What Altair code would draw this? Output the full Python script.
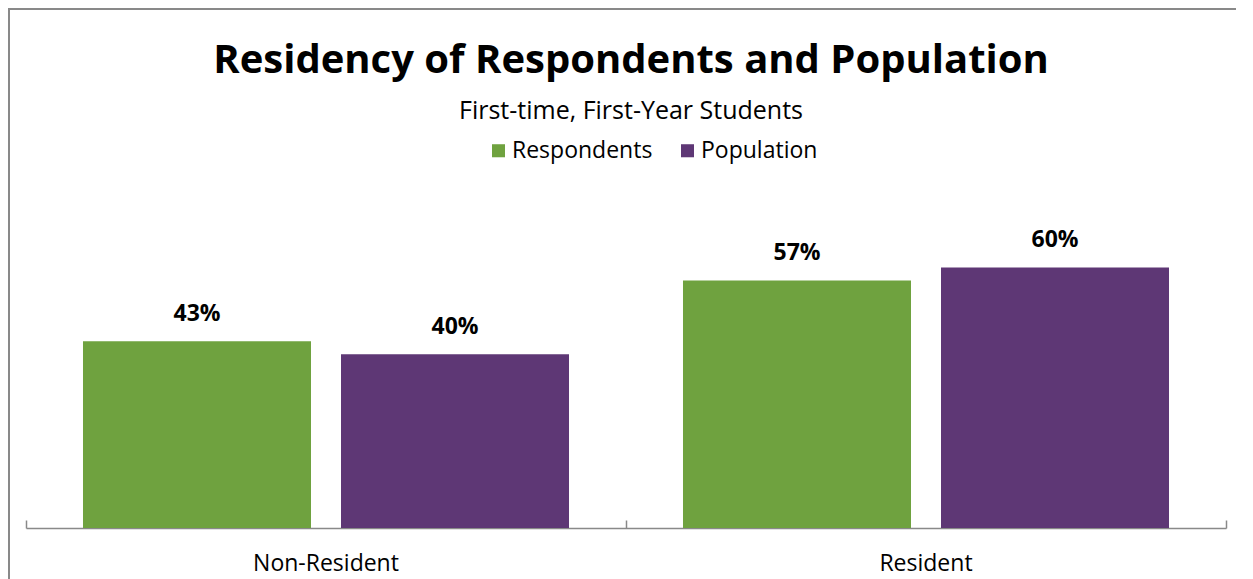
import altair as alt
import pandas as pd

categories = ["Non-Resident", "Resident"]
series = ["Respondents", "Population"]
respondents = [0.43, 0.57]
population = [0.40, 0.60]
colors = ["#6FA23F", "#5E3775"]

rows = []
for i, c in enumerate(categories):
    rows.append({"category": c, "series": series[0], "value": respondents[i]})
    rows.append({"category": c, "series": series[1], "value": population[i]})
df = pd.DataFrame(rows)

FONT = "Open Sans"
W, H = 1200, 304

x_scale = alt.Scale(paddingInner=0, paddingOuter=0)
x_enc = alt.X(
    "category:N",
    sort=categories,
    title=None,
    scale=x_scale,
    axis=alt.Axis(
        domainColor="#898989", domainWidth=1.5, ticks=False,
        labelAngle=0, labelFontSize=23, labelFont=FONT, labelColor="black",
        labelPadding=24,
    ),
)
xoff = alt.XOffset("series:N", sort=series,
                   scale=alt.Scale(paddingInner=0.1163, paddingOuter=0.2209))
y_enc = alt.Y("value:Q", scale=alt.Scale(domain=[0, 0.7]), axis=None)

bars = alt.Chart(df).mark_bar().encode(
    x=x_enc,
    xOffset=xoff,
    y=y_enc,
    color=alt.Color(
        "series:N", sort=series,
        scale=alt.Scale(domain=series, range=colors),
        legend=alt.Legend(
            title=None, orient="none", direction="horizontal",
            legendX=461, legendY=-85,
            symbolType="square", symbolSize=170, symbolStrokeWidth=0,
            labelFontSize=23, labelFont=FONT, labelColor="black",
            columnPadding=23, labelOffset=2,
        ),
    ),
)

labels = alt.Chart(df).mark_text(
    dy=-20, baseline="alphabetic", fontSize=23, fontWeight="bold", font=FONT, color="black"
).encode(
    x=alt.X(
        "category:N", sort=categories, title=None, scale=x_scale,
        axis=alt.Axis(
            orient="top", offset=-H, domain=False, labels=False,
            ticks=True, tickBand="extent", tickSize=8, tickColor="#898989", tickWidth=1.5,
        ),
    ),
    xOffset=xoff,
    y=y_enc,
    text=alt.Text("value:Q", format=".0%"),
)

border = alt.Chart(pd.DataFrame({"a": [0]})).mark_rule(color="#898989", strokeWidth=2).encode(
    x=alt.value(-17), y=alt.value(-216), y2=alt.value(H + 60)
)
border_top = alt.Chart(pd.DataFrame({"a": [0]})).mark_rule(color="#898989", strokeWidth=2).encode(
    x=alt.value(-17), x2=alt.value(W + 40), y=alt.value(-215)
)

chart = (
    alt.layer(bars, labels, border, border_top)
    .resolve_axis(x="independent")
    .properties(
        width=W, height=H,
        padding={"left": 18, "top": 216, "right": 10, "bottom": 51},
        autosize=alt.AutoSizeParams(type="none"),
        title=alt.TitleParams(
            "Residency of Respondents and Population",
            subtitle="First-time, First-Year Students",
            anchor="middle", frame="group", dx=5,
            font=FONT, fontSize=40, fontWeight="bold", color="black",
            subtitleFont=FONT, subtitleFontSize=25, subtitleColor="black",
            subtitlePadding=18, offset=-117,
        ),
    )
    .configure_view(stroke=None)
)

chart.save("out.html", embed_options={"renderer": "svg", "actions": False})
